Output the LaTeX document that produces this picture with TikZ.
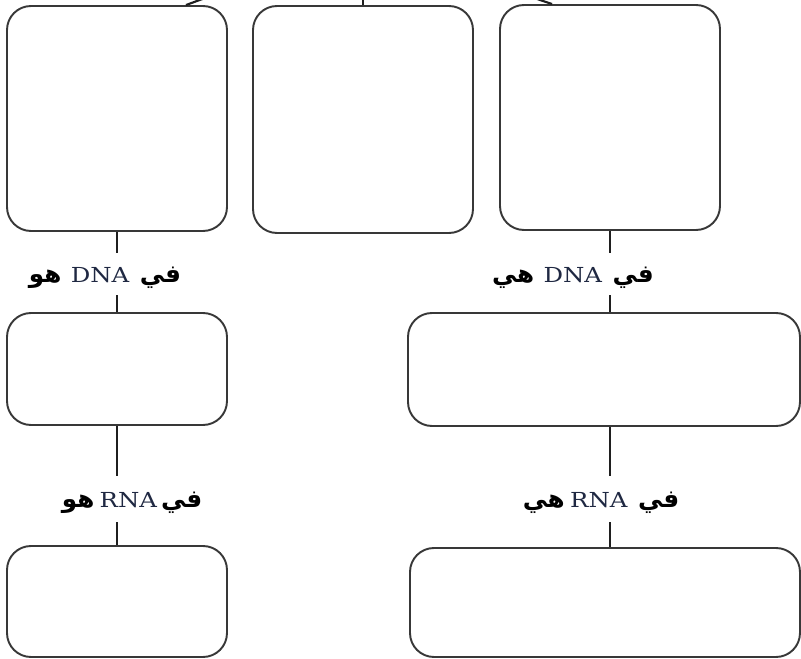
\documentclass[tikz,border=0pt]{standalone}
\usepackage{fontspec}
\usepackage{graphicx}
\newfontfamily\arabicfont[Script=Arabic]{DejaVu Sans}
\newfontfamily\latinserif{DejaVu Serif}
\TeXXeTstate=1
\definecolor{boxgray}{HTML}{383838}
\definecolor{dnablue}{HTML}{1F2842}
\newcommand{\lat}[1]{{\latinserif\mdseries\fontsize{15.5}{18}\selectfont\color{dnablue}\scalebox{1.18}[1]{#1}}}
\begin{document}
\begin{tikzpicture}[x=0.75pt,y=-0.75pt,
  box/.style={draw=boxgray,line width=1.45pt,rounded corners=18pt,inner sep=0pt,fill=white},
  conn/.style={draw=black!88,line width=1.6pt},
  lbl/.style={fill=white,inner sep=0pt,text height=19pt,text depth=6pt,font=\arabicfont\bfseries\fontsize{18.5}{22}\selectfont}]
\useasboundingbox (0,0) rectangle (801,659);
\clip (0,0) rectangle (801,659);
% boxes
\node[box,minimum width=165pt,minimum height=168.75pt] (A) at (117,118.5) {};
\node[box,minimum width=165pt,minimum height=170.25pt] (B) at (363,119.5) {};
\node[box,minimum width=165pt,minimum height=168.75pt] (C) at (610,117.5) {};
\node[box,minimum width=165pt,minimum height=84pt] (D) at (117,369) {};
\node[box,minimum width=165pt,minimum height=83.25pt] (E) at (117,601.5) {};
\node[box,minimum width=294pt,minimum height=84.75pt] (F) at (604,369.5) {};
\node[box,minimum width=292.5pt,minimum height=81.75pt] (G) at (605,602.5) {};
% parent (outside the picture)
\coordinate (top) at (363,-60);
\draw[conn] (top) -- ([xshift=51.75pt]A.north);
\draw[conn] (top) -- (B.north);
\draw[conn] (top) -- ([xshift=-43.5pt]C.north);
% vertical connectors
\draw[conn] (A.south) -- (D.north);
\draw[conn] (D.south) -- (E.north);
\draw[conn] (C.south) -- (C.south |- F.north);
\draw[conn] (F.south -| C.south) -- (G.north -| C.south);
% labels
\node[lbl,minimum height=32pt] (l1) at (105,274) {\beginR في\hspace{8pt}\beginL\lat{DNA}\endL\hspace{7pt}هو\endR};
\node[lbl,minimum height=32pt] (l2) at (573,274) {\beginR في\hspace{8pt}\beginL\lat{DNA}\endL\hspace{7pt}هي\endR};
\node[lbl,minimum height=35pt] (l3) at (132,499) {\beginR في\hspace{3pt}\beginL\lat{RNA}\endL\hspace{4pt}هو\endR};
\node[lbl,minimum height=35pt] (l4) at (601,499) {\beginR في\hspace{8pt}\beginL\lat{RNA}\endL\hspace{4pt}هي\endR};
\end{tikzpicture}
\end{document}
